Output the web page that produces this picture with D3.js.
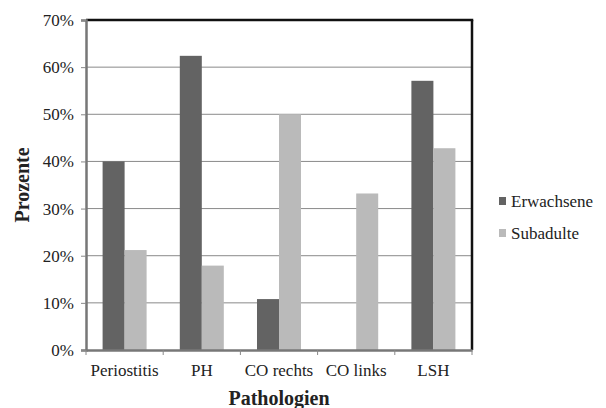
<!DOCTYPE html>
<html><head><meta charset="utf-8">
<script src="https://cdn.jsdelivr.net/npm/d3@7/dist/d3.min.js"></script>
<style>body{margin:0;background:#fff}svg{display:block}</style>
</head><body>
<script>
const categories = ["Periostitis", "PH", "CO rechts", "CO links", "LSH"];
const seriesNames = ["Erwachsene", "Subadulte"];
const erwachsene = [40, 62.4, 10.8, 0, 57.1];
const subadulte = [21.2, 17.9, 50, 33.2, 42.8];
const yTicks = [0, 10, 20, 30, 40, 50, 60, 70];
const colors = ["#636363", "#bababa"];
const FONT = "Liberation Serif";

const W = 606, H = 408;
const m = {left: 86, right: 134, top: 20, bottom: 58};
const svg = d3.select("body").append("svg").attr("width", W).attr("height", H);
const iw = W - m.left - m.right, ih = H - m.top - m.bottom;
const g = svg.append("g").attr("transform", `translate(${m.left},${m.top})`);

const x = d3.scaleBand().domain(categories).range([0, iw]).paddingInner(0).paddingOuter(0);
const x1 = d3.scaleBand().domain(seriesNames).range([x.bandwidth()*0.215, x.bandwidth()*0.785]);
const y = d3.scaleLinear().domain([0, 70]).range([ih, 0]);

// gridlines
g.append("g").selectAll("line").data(yTicks.filter(d => d > 0 && d < 70)).join("line")
  .attr("x1", 0).attr("x2", iw).attr("y1", d => y(d)).attr("y2", d => y(d))
  .attr("stroke", "#8a8a8a").attr("stroke-width", 1);

// bars
const data = categories.map((c, i) => ({c, vals: [erwachsene[i], subadulte[i]]}));
g.append("g").selectAll("g").data(data).join("g")
  .attr("transform", d => `translate(${x(d.c)},0)`)
  .selectAll("rect").data(d => d.vals.map((v, j) => ({v, s: seriesNames[j], j})))
  .join("rect")
  .attr("x", d => x1(d.s)).attr("width", x1.bandwidth())
  .attr("y", d => y(d.v)).attr("height", d => ih - y(d.v))
  .attr("fill", d => colors[d.j]);

// frame: top & right black
g.append("line").attr("x1", 0).attr("x2", iw + 1.25).attr("y1", 0).attr("y2", 0).attr("stroke", "#111").attr("stroke-width", 2.5);
g.append("line").attr("x1", iw).attr("x2", iw).attr("y1", 0).attr("y2", ih).attr("stroke", "#111").attr("stroke-width", 2.5);

// y axis
const ya = g.append("g").call(d3.axisLeft(y).tickValues(yTicks).tickFormat(d => d + "%").tickSize(5).tickPadding(7));
ya.attr("font-family", FONT).attr("font-size", 17);
ya.select(".domain").attr("stroke", "#777").attr("stroke-width", 2.5);
ya.selectAll(".tick line").attr("stroke", "#888");
ya.selectAll("text").attr("fill", "#222");

// x axis
const xa = g.append("g").attr("transform", `translate(0,${ih})`)
  .call(d3.axisBottom(x).tickSize(0).tickPadding(14));
xa.attr("font-family", FONT).attr("font-size", 17);
xa.select(".domain").attr("stroke", "#777").attr("stroke-width", 2.5);
xa.selectAll("text").attr("fill", "#222");
// boundary ticks
g.append("g").selectAll("line").data(d3.range(categories.length + 1)).join("line")
  .attr("x1", i => i * x.step()).attr("x2", i => i * x.step())
  .attr("y1", ih).attr("y2", ih + 5).attr("stroke", "#888");

// axis titles
svg.append("text").attr("x", m.left + iw/2).attr("y", 405).attr("text-anchor", "middle")
  .attr("font-family", FONT).attr("font-size", 20).attr("font-weight", "bold").attr("fill", "#222").text("Pathologien");
svg.append("text").attr("transform", `translate(29,${m.top + ih/2}) rotate(-90)`).attr("text-anchor", "middle")
  .attr("font-family", FONT).attr("font-size", 20).attr("font-weight", "bold").attr("fill", "#222").text("Prozente");

// legend
const lg = svg.append("g").attr("transform", "translate(499,201)");
seriesNames.forEach((s, i) => {
  const row = lg.append("g").attr("transform", `translate(0,${i*32})`);
  row.append("rect").attr("x", 0).attr("y", -4).attr("width", 7).attr("height", 8).attr("fill", colors[i]);
  row.append("text").attr("x", 12).attr("y", 6).attr("font-family", FONT).attr("font-size", 17).attr("fill", "#222").text(s);
});
</script>
</body></html>
